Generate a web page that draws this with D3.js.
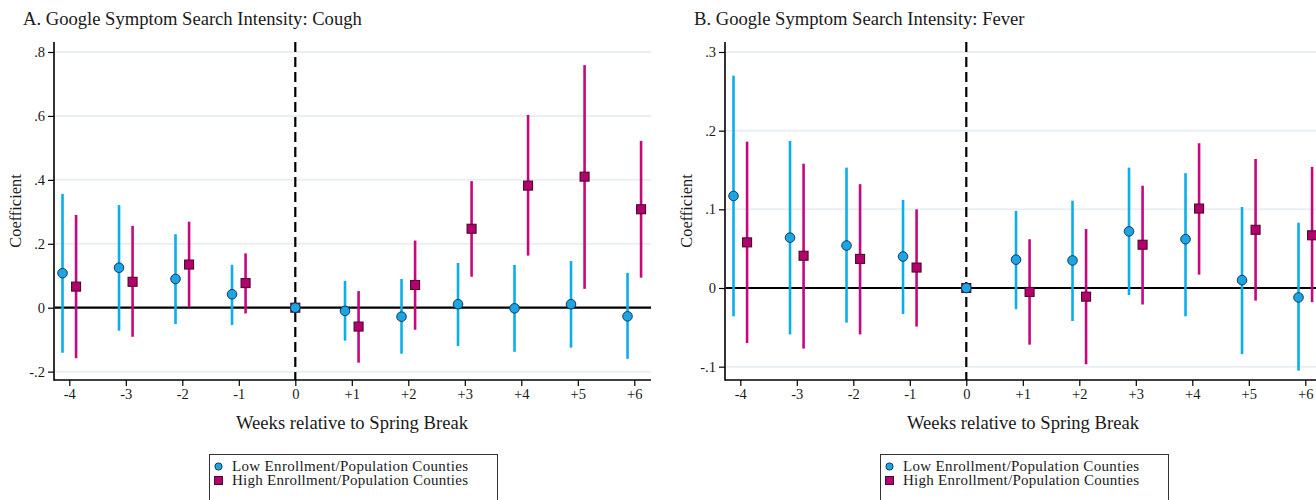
<!DOCTYPE html>
<html>
<head>
<meta charset="utf-8">
<script src="https://cdn.jsdelivr.net/npm/d3@7"></script>
<style>
  html, body { margin: 0; padding: 0; background: #fff; }
  svg { display: block; }
  text { font-family: "Liberation Serif", "DejaVu Serif", serif; fill: #1a1a1a; }
</style>
</head>
<body>
<svg id="chart" width="1316" height="500"></svg>
<script>
// Event-study estimates, weeks relative to spring break
const weeks = [-4, -3, -2, -1, 0, 1, 2, 3, 4, 5, 6];
const weekLabels = ["-4", "-3", "-2", "-1", "0", "+1", "+2", "+3", "+4", "+5", "+6"];

// Panel A: cough
const coughLow     = [0.108, 0.125, 0.090, 0.042, 0, -0.010, -0.028, 0.011, -0.002, 0.011, -0.027];
const coughLowLo   = [-0.141, -0.072, -0.051, -0.054, 0, -0.103, -0.144, -0.120, -0.138, -0.125, -0.160];
const coughLowHi   = [0.356, 0.321, 0.230, 0.134, 0, 0.084, 0.090, 0.140, 0.134, 0.146, 0.109];
const coughHigh    = [0.066, 0.081, 0.135, 0.077, 0, -0.059, 0.071, 0.247, 0.382, 0.410, 0.308];
const coughHighLo  = [-0.158, -0.091, 0.001, -0.018, 0, -0.172, -0.069, 0.097, 0.163, 0.059, 0.094];
const coughHighHi  = [0.290, 0.256, 0.269, 0.170, 0, 0.052, 0.210, 0.396, 0.603, 0.759, 0.522];
const coughTicks   = [-0.2, 0, 0.2, 0.4, 0.6, 0.8];
const coughTickLabels = ["-.2", "0", ".2", ".4", ".6", ".8"];

// Panel B: fever
const feverLow     = [0.117, 0.064, 0.054, 0.040, 0, 0.036, 0.035, 0.072, 0.062, 0.010, -0.012];
const feverLowLo   = [-0.036, -0.059, -0.044, -0.033, 0, -0.027, -0.042, -0.009, -0.036, -0.084, -0.105];
const feverLowHi   = [0.270, 0.187, 0.153, 0.112, 0, 0.098, 0.111, 0.153, 0.146, 0.103, 0.083];
const feverHigh    = [0.058, 0.041, 0.037, 0.026, 0, -0.005, -0.011, 0.055, 0.101, 0.074, 0.067];
const feverHighLo  = [-0.070, -0.077, -0.059, -0.049, 0, -0.072, -0.097, -0.021, 0.017, -0.016, -0.018];
const feverHighHi  = [0.186, 0.158, 0.132, 0.100, 0, 0.062, 0.075, 0.130, 0.184, 0.164, 0.154];
const feverTicks   = [-0.1, 0, 0.1, 0.2, 0.3];
const feverTickLabels = ["-.1", "0", ".1", ".2", ".3"];

const seriesNames = ["Low Enrollment/Population Counties", "High Enrollment/Population Counties"];
const titles = ["A. Google Symptom Search Intensity: Cough", "B. Google Symptom Search Intensity: Fever"];

const BLUE_LINE = "#0aaeea", BLUE_FILL = "#1ba6e3", BLUE_EDGE = "#15385a";
const PINK_LINE = "#c7077d", PINK_FILL = "#b3006c", PINK_EDGE = "#4a0a30";
const GRID = "#e9eff3";

const svg = d3.select("#chart");

function panel(cfg) {
  const g = svg.append("g").attr("transform", `translate(${cfg.dx},0)`);
  const plotL = 54, plotR = 651, plotT = 42, plotB = 380;

  const x = d3.scaleLinear().domain([-4, 6]).range([69.3, 634.3]);
  const y = d3.scaleLinear().domain(cfg.yDomain).range(cfg.yRange);
  const off = 0.12;

  // title
  g.append("text").attr("x", 23).attr("y", 25).attr("font-size", 18.6).text(cfg.title);

  // horizontal gridlines
  g.append("g").selectAll("line").data(cfg.ticks.filter(t => t !== 0)).join("line")
    .attr("x1", plotL + 1).attr("x2", plotR)
    .attr("y1", d => y(d)).attr("y2", d => y(d))
    .attr("stroke", GRID).attr("stroke-width", 2);

  // y axis
  const yAxis = d3.axisLeft(y).tickValues(cfg.ticks)
    .tickFormat((d, i) => cfg.tickLabels[i]).tickSize(6).tickPadding(3);
  const ya = g.append("g").attr("transform", `translate(${plotL},0)`).call(yAxis);
  ya.select(".domain").remove();
  ya.selectAll(".tick line").attr("stroke", "#000").attr("stroke-width", 1.2);
  ya.selectAll(".tick text").attr("font-family", "Liberation Serif").attr("font-size", 14.5).attr("fill", "#1a1a1a");
  g.append("line").attr("x1", plotL).attr("x2", plotL).attr("y1", plotT).attr("y2", plotB + 0.8)
    .attr("stroke", "#000").attr("stroke-width", 1.6);

  // x axis
  const xAxis = d3.axisBottom(x).tickValues(weeks)
    .tickFormat((d, i) => weekLabels[i]).tickSize(6).tickPadding(3);
  const xa = g.append("g").attr("transform", `translate(0,${plotB})`).call(xAxis);
  xa.select(".domain").remove();
  xa.selectAll(".tick line").attr("stroke", "#000").attr("stroke-width", 1.2);
  xa.selectAll(".tick text").attr("font-family", "Liberation Serif").attr("font-size", 14.5).attr("fill", "#1a1a1a");
  g.append("line").attr("x1", plotL).attr("x2", plotR).attr("y1", plotB).attr("y2", plotB)
    .attr("stroke", "#000").attr("stroke-width", 1.6);

  // zero reference line
  g.append("line").attr("x1", plotL + 1).attr("x2", plotR).attr("y1", y(0)).attr("y2", y(0))
    .attr("stroke", "#000").attr("stroke-width", 2.2);

  // spring break marker
  g.append("line").attr("x1", x(0)).attr("x2", x(0)).attr("y1", plotT).attr("y2", plotB)
    .attr("stroke", "#000").attr("stroke-width", 2.2).attr("stroke-dasharray", "10,5");

  // axis titles
  g.append("text").attr("x", 352).attr("y", 429).attr("text-anchor", "middle")
    .attr("font-size", 18.6).text("Weeks relative to Spring Break");
  g.append("text").attr("transform", `translate(21,211) rotate(-90)`).attr("text-anchor", "middle")
    .attr("font-size", 16.4).text("Coefficient");

  const idx = weeks.map((w, i) => i);
  const pos = (i, sign) => weeks[i] === 0 ? x(0) : x(weeks[i] + sign * off);

  // confidence intervals
  g.append("g").selectAll("line").data(idx.filter(i => weeks[i] !== 0)).join("line")
    .attr("x1", i => pos(i, -1)).attr("x2", i => pos(i, -1))
    .attr("y1", i => y(cfg.lowLo[i])).attr("y2", i => y(cfg.lowHi[i]))
    .attr("stroke", BLUE_LINE).attr("stroke-width", 2.6);
  g.append("g").selectAll("line").data(idx.filter(i => weeks[i] !== 0)).join("line")
    .attr("x1", i => pos(i, 1)).attr("x2", i => pos(i, 1))
    .attr("y1", i => y(cfg.highLo[i])).attr("y2", i => y(cfg.highHi[i]))
    .attr("stroke", PINK_LINE).attr("stroke-width", 2.6);

  // point estimates
  const sq = 9;
  g.append("g").selectAll("rect").data(idx).join("rect")
    .attr("x", i => pos(i, 1) - sq / 2).attr("y", i => y(cfg.high[i]) - sq / 2)
    .attr("width", sq).attr("height", sq)
    .attr("fill", PINK_FILL).attr("stroke", PINK_EDGE).attr("stroke-width", 1.1);
  g.append("g").selectAll("circle").data(idx).join("circle")
    .attr("cx", i => pos(i, -1)).attr("cy", i => y(cfg.low[i])).attr("r", 4.8)
    .attr("fill", BLUE_FILL).attr("stroke", BLUE_EDGE).attr("stroke-width", 1);

  // legend
  const lg = g.append("g");
  lg.append("rect").attr("x", 209.5).attr("y", 454.5).attr("width", 288).attr("height", 60)
    .attr("fill", "#fff").attr("stroke", "#333").attr("stroke-width", 1);
  lg.append("circle").attr("cx", 218.5).attr("cy", 466.5).attr("r", 3.6)
    .attr("fill", BLUE_FILL).attr("stroke", BLUE_EDGE).attr("stroke-width", 1);
  lg.append("rect").attr("x", 214.5).attr("y", 476.5).attr("width", 8).attr("height", 8)
    .attr("fill", PINK_FILL).attr("stroke", PINK_EDGE).attr("stroke-width", 1);
  lg.append("text").attr("x", 232).attr("y", 471).attr("font-size", 15)
    .attr("textLength", 236).attr("lengthAdjust", "spacing").text(seriesNames[0]);
  lg.append("text").attr("x", 232).attr("y", 485).attr("font-size", 15)
    .attr("textLength", 236).attr("lengthAdjust", "spacing").text(seriesNames[1]);
}

panel({
  dx: 0, title: titles[0],
  yDomain: [0, 0.8], yRange: [307.7, 52],
  ticks: coughTicks, tickLabels: coughTickLabels,
  low: coughLow, lowLo: coughLowLo, lowHi: coughLowHi,
  high: coughHigh, highLo: coughHighLo, highHi: coughHighHi
});
panel({
  dx: 671, title: titles[1],
  yDomain: [0, 0.3], yRange: [288, 52],
  ticks: feverTicks, tickLabels: feverTickLabels,
  low: feverLow, lowLo: feverLowLo, lowHi: feverLowHi,
  high: feverHigh, highLo: feverHighLo, highHi: feverHighHi
});
</script>
</body>
</html>
